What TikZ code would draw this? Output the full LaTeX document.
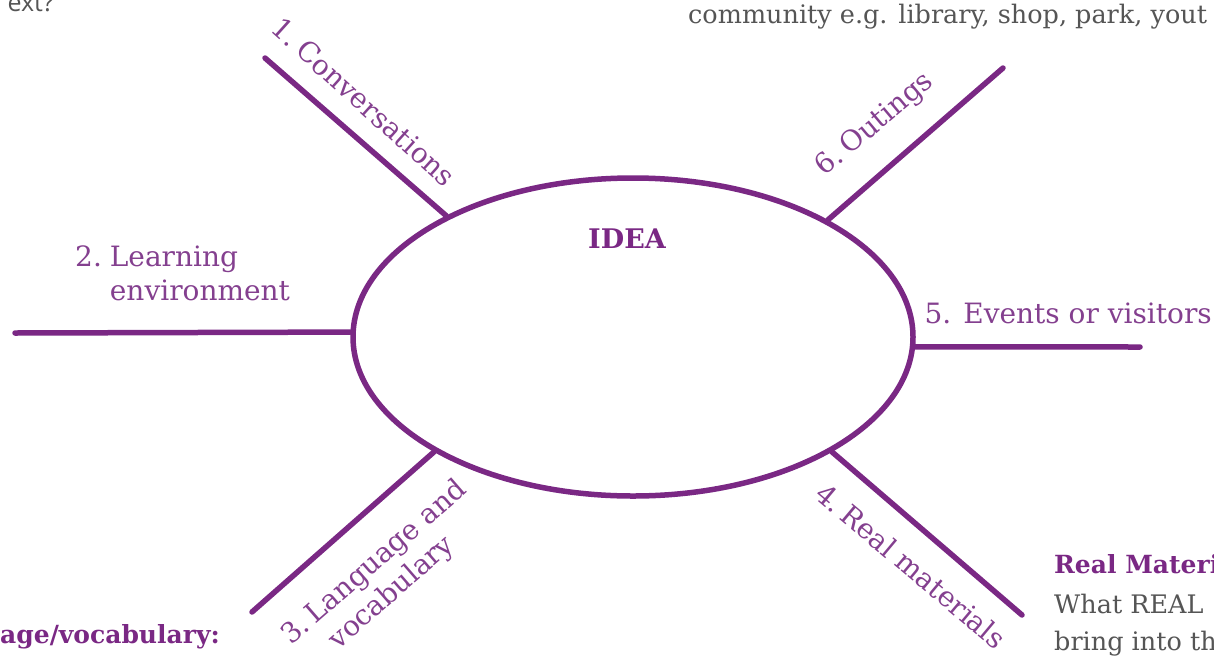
\documentclass[tikz,border=0pt]{standalone}
\usepackage{fontspec}
\setmainfont{DejaVu Serif}
\newfontfamily\sansf{Open Sans}
\usetikzlibrary{shapes.geometric}
\definecolor{ink}{HTML}{7A2884}
\definecolor{lbl}{HTML}{84408F}
\definecolor{body}{HTML}{555555}
\tikzset{
  spoke/.style={draw=ink, line width=5.5pt, line cap=round},
  lab/.style={text=lbl, font=\fontsize{28}{34}\selectfont, inner sep=0pt},
  bodytext/.style={text=body, font=\fontsize{25.5}{30}\selectfont, inner sep=0pt, anchor=base west},
  headtext/.style={text=ink, font=\bfseries\fontsize{25}{30}\selectfont, inner sep=0pt, anchor=base west}
}
\begin{document}
\begin{tikzpicture}[x=1pt,y=-1pt]
\useasboundingbox (0,0) rectangle (1214,659);
% central idea
\node[ellipse, draw=ink, line width=5.5pt, minimum width=560pt, minimum height=318pt, inner sep=0pt] (idea) at (633,337) {};
\node[text=ink, font=\bfseries\fontsize{27}{30}\selectfont, inner sep=0pt] (ideatxt) at (627,239) {IDEA};
% free ends of the spokes
\coordinate (e1) at (265,58);
\coordinate (e2) at (15,333);
\coordinate (e3) at (252,612);
\coordinate (e4) at (1022,615);
\coordinate (e5) at (1140,347);
\coordinate (e6) at (1003,68);
% spokes
\draw[spoke] (idea.147) -- (e1);
\draw[spoke] (idea.179) -- (e2);
\draw[spoke] (idea.210) -- (e3);
\draw[spoke] (idea.330) -- (e4);
\draw[spoke] (idea.358) -- (e5);
\draw[spoke] (idea.31) -- (e6);
% spoke labels
\node[lab, rotate=-42] (l1) at (364,102) {1.\hspace{6pt}Conversations};
\node[lab, align=left, anchor=north west] (l2) at (75,246) {2.\hspace{8pt}Learning\\\hphantom{2.\hspace{8pt}}environment};
\node[lab, rotate=41, align=left] (l3) at (386,576) {3.\hspace{6pt}Language and\\\hphantom{3.\hspace{6pt}}vocabulary};
\node[lab, rotate=-40] (l4) at (911,566) {4.\hspace{6pt}Real materials};
\node[lab, anchor=base east] (l5) at (1212,323) {5.\hspace{12pt}Events or visitors};
\node[lab, rotate=40] (l6) at (875,125) {6.\hspace{6pt}Outings};
% cropped surrounding texts
\node[text=body, font=\sansf\fontsize{25}{30}\selectfont, inner sep=0pt, anchor=base east] (t1) at (54,11) {ext?};
\node[bodytext] (t2) at (688,23) {community e.g. library, shop, park, yout};
\node[headtext] (t3) at (1054,573) {Real Materi};
\node[bodytext] (t4) at (1054,613) {What REAL};
\node[bodytext] (t5) at (1054,650) {bring into th};
\node[headtext, anchor=base east] (t6) at (220,643) {age/vocabulary:};
\end{tikzpicture}
\end{document}
